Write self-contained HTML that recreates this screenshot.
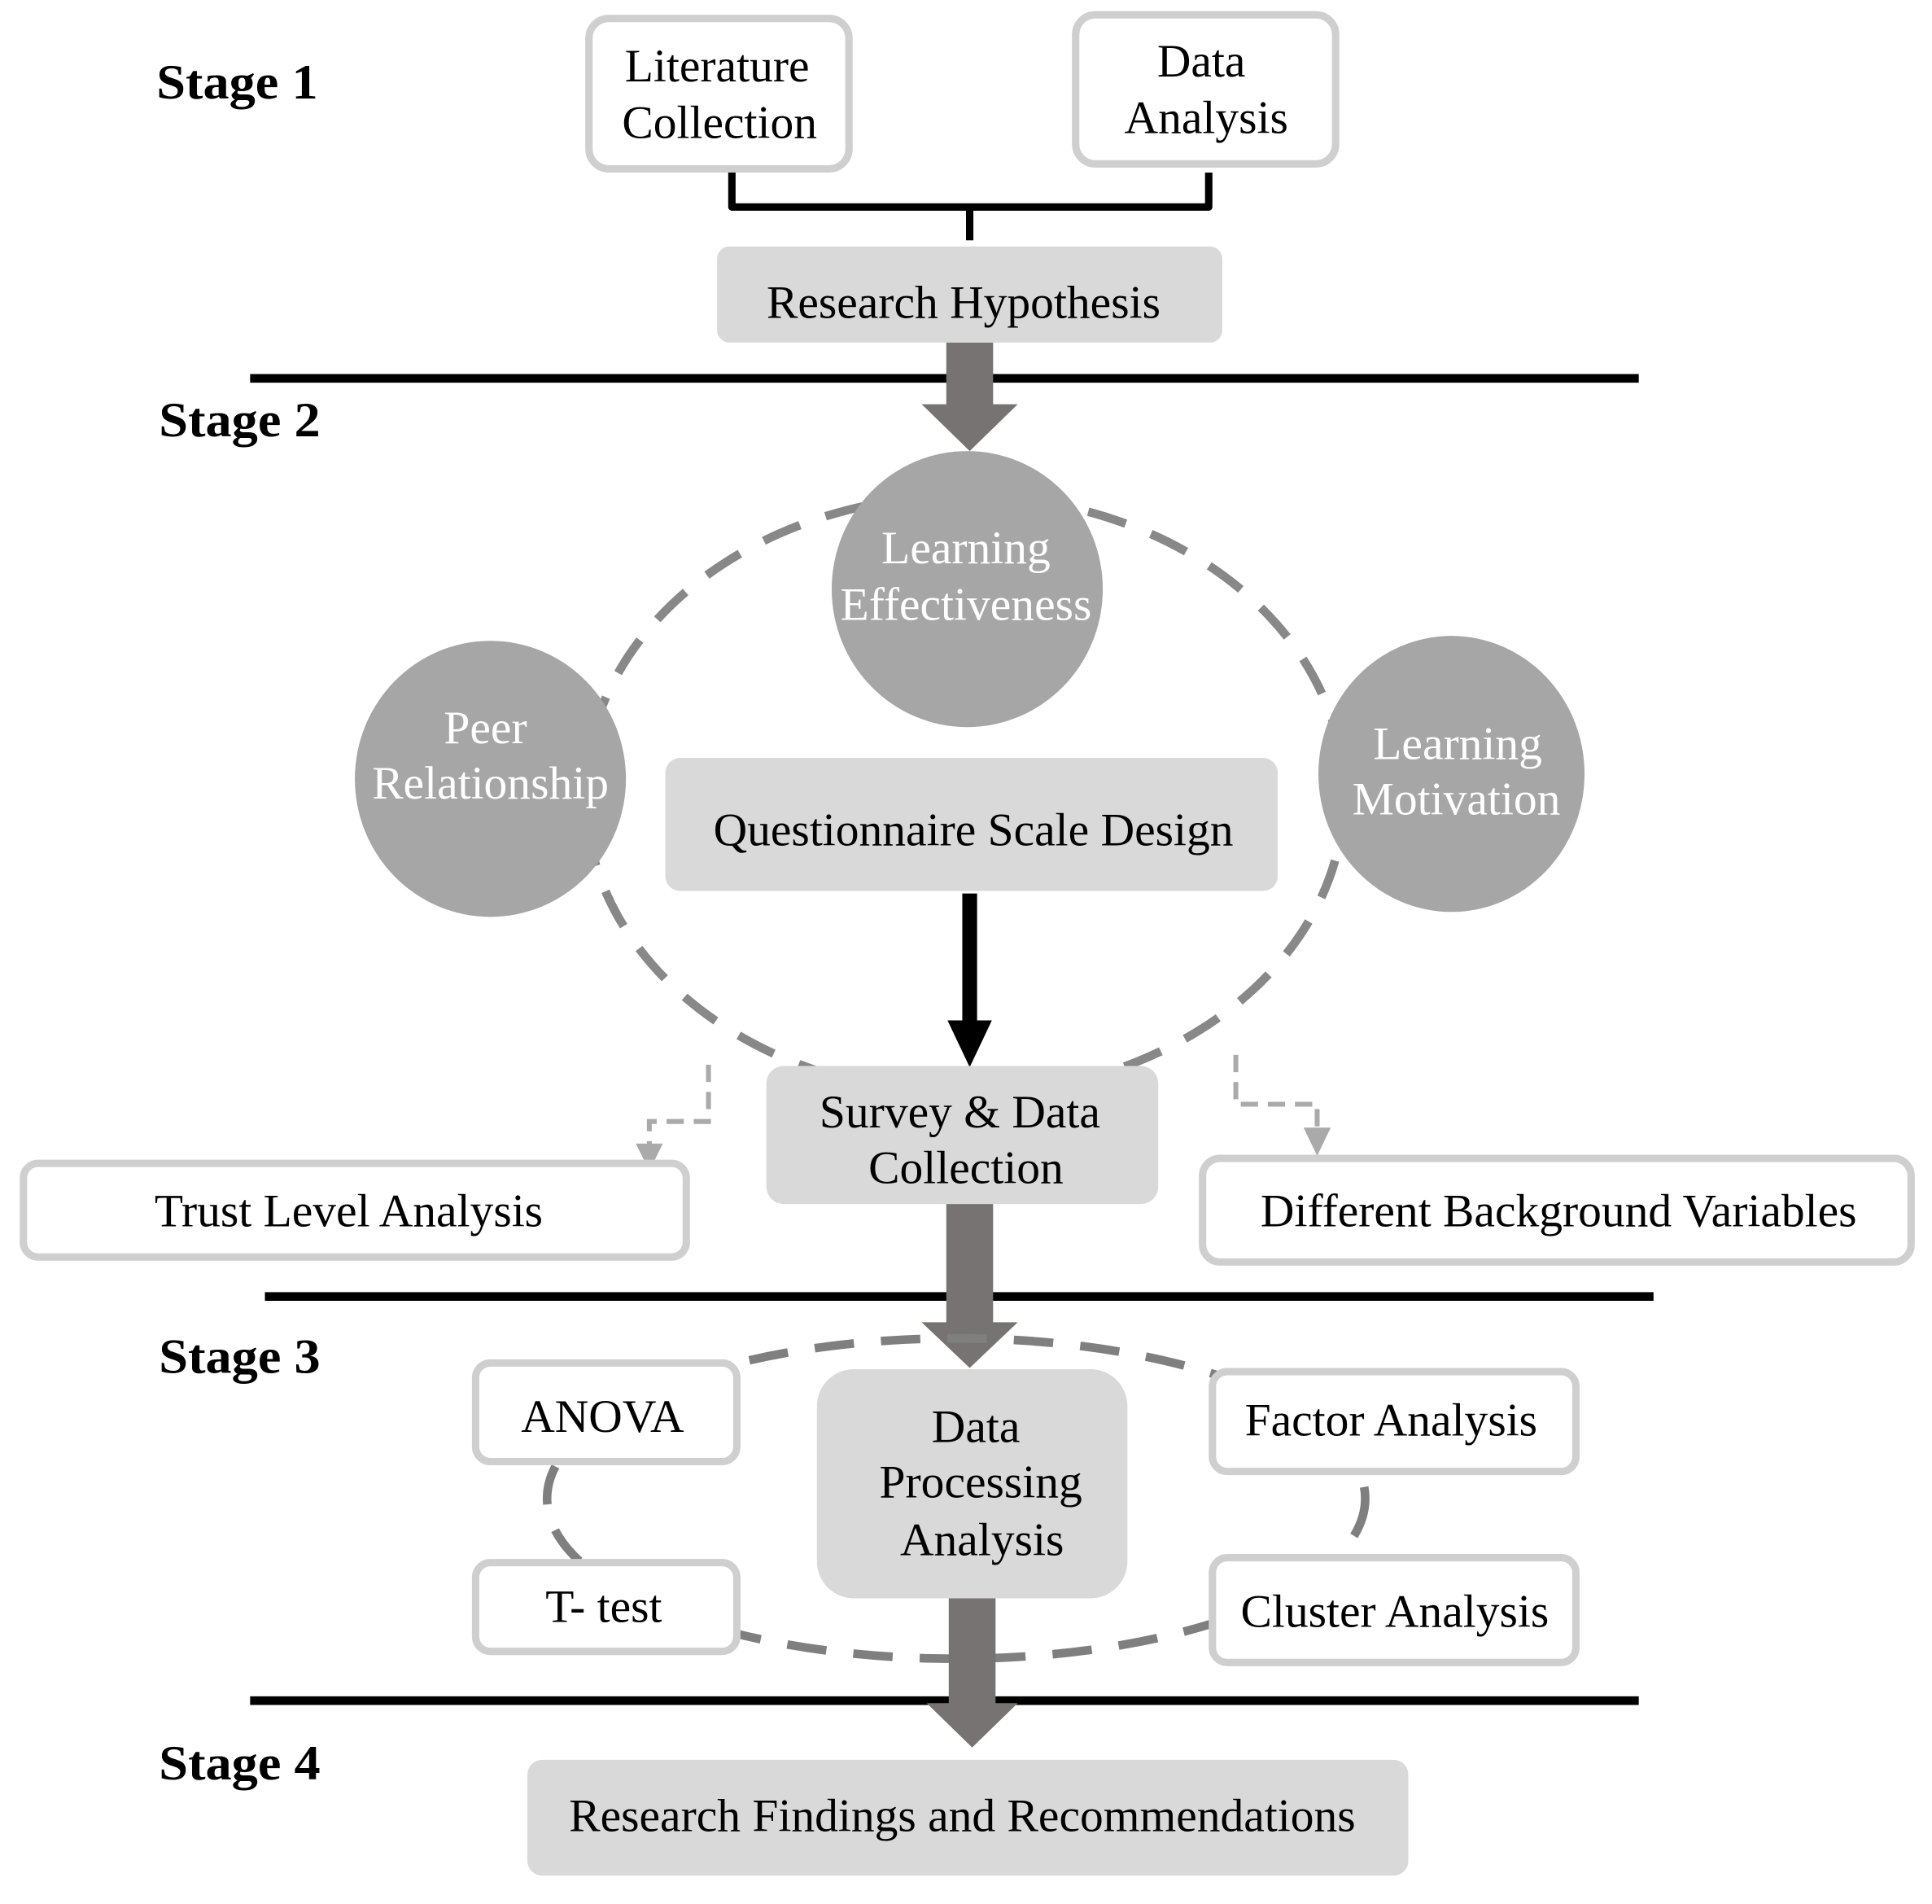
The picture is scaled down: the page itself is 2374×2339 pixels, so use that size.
<!DOCTYPE html>
<html><head><meta charset="utf-8"><style>html,body{margin:0;padding:0;background:#fff}svg{display:block}</style></head>
<body>
<svg width="2374" height="2339" viewBox="0 0 1568 1545" preserveAspectRatio="none" xmlns="http://www.w3.org/2000/svg" font-family="'Liberation Serif', serif">
<rect width="1568" height="1545" fill="#fff"/>
<g font-weight="bold" font-size="40" fill="#000">
<text x="127" y="80" textLength="131" lengthAdjust="spacingAndGlyphs">Stage 1</text>
<text x="129" y="354" textLength="131" lengthAdjust="spacingAndGlyphs">Stage 2</text>
<text x="129" y="1114" textLength="131" lengthAdjust="spacingAndGlyphs">Stage 3</text>
<text x="129" y="1444" textLength="131" lengthAdjust="spacingAndGlyphs">Stage 4</text>
</g>
<rect x="478" y="15" width="211" height="122" rx="16" fill="#fff" stroke="#cfcfcf" stroke-width="6"/>
<rect x="873" y="12" width="211" height="121" rx="16" fill="#fff" stroke="#cfcfcf" stroke-width="6"/>
<g font-size="38" text-anchor="middle" fill="#000">
<text x="582" y="66">Literature</text><text x="584" y="112">Collection</text>
<text x="975" y="62">Data</text><text x="979" y="108">Analysis</text>
</g>
<path d="M594 140 V168 H981 V140 M787 168 V195" fill="none" stroke="#000" stroke-width="6" stroke-linejoin="round"/>
<rect x="582" y="200" width="410" height="78" rx="10" fill="#d9d9d9"/>
<text x="782" y="258" font-size="38" text-anchor="middle">Research Hypothesis</text>
<g stroke="#000" stroke-width="7">
<line x1="203" y1="307" x2="1330" y2="307"/>
<line x1="215" y1="1052" x2="1342" y2="1052"/>
<line x1="203" y1="1380" x2="1330" y2="1380"/>
</g>
<path d="M768 278 H806 V328 H826 L787 366 L748 328 H768 Z" fill="#787373"/>
<ellipse cx="783" cy="645" rx="308" ry="243" fill="none" stroke="#888" stroke-width="7" stroke-dasharray="32 22"/>
<g fill="#a6a6a6">
<ellipse cx="785" cy="478" rx="110" ry="112"/>
<ellipse cx="398" cy="632" rx="110" ry="112"/>
<ellipse cx="1178" cy="628" rx="108" ry="112"/>
</g>
<g font-size="38" text-anchor="middle" fill="#fff">
<text x="784" y="457">Learning</text><text x="784" y="503">Effectiveness</text>
<text x="394" y="603">Peer</text><text x="398" y="648">Relationship</text>
<text x="1183" y="616">Learning</text><text x="1182" y="661">Motivation</text>
</g>
<rect x="540" y="615" width="497" height="108" rx="12" fill="#d9d9d9"/>
<text x="790" y="686" font-size="38" text-anchor="middle">Questionnaire Scale Design</text>
<line x1="787" y1="725" x2="787" y2="832" stroke="#000" stroke-width="12"/>
<path d="M769 828 H805 L787 866 Z" fill="#000"/>
<g fill="none" stroke="#aaa" stroke-width="4" stroke-dasharray="14 8">
<path d="M575 864 V910 H527 V930"/>
<path d="M1003 856 V896 H1069 V916"/>
</g>
<path d="M516 928 H538 L527 950 Z" fill="#aaa"/>
<path d="M1058 915 H1080 L1069 938 Z" fill="#aaa"/>
<rect x="622" y="865" width="318" height="112" rx="14" fill="#d9d9d9"/>
<g font-size="38" text-anchor="middle">
<text x="779" y="915">Survey &amp; Data</text><text x="784" y="960">Collection</text>
</g>
<rect x="19" y="944" width="538" height="76" rx="12" fill="#fff" stroke="#cfcfcf" stroke-width="6"/>
<rect x="976" y="940" width="575" height="84" rx="14" fill="#fff" stroke="#cfcfcf" stroke-width="6"/>
<g font-size="38" text-anchor="middle">
<text x="283" y="995">Trust Level Analysis</text>
<text x="1265" y="995">Different Background Variables</text>
</g>
<path d="M768 977 H806 V1073 H826 L787 1110 L748 1073 H768 Z" fill="#787373"/>
<ellipse cx="776" cy="1216" rx="332" ry="130" fill="none" stroke="#7f7f7f" stroke-width="7" stroke-dasharray="32 22"/>
<g fill="#fff" stroke="#cfcfcf" stroke-width="6">
<rect x="386" y="1106" width="212" height="80" rx="12"/>
<rect x="386" y="1268" width="212" height="72" rx="12"/>
<rect x="984" y="1113" width="295" height="81" rx="12"/>
<rect x="984" y="1264" width="295" height="85" rx="12"/>
</g>
<rect x="663" y="1111" width="252" height="186" rx="30" fill="#d9d9d9"/>
<g font-size="38" text-anchor="middle">
<text x="489" y="1162">ANOVA</text>
<text x="490" y="1316">T- test</text>
<text x="1129" y="1165">Factor Analysis</text>
<text x="1132" y="1320">Cluster Analysis</text>
<text x="792" y="1170">Data</text><text x="796" y="1215">Processing</text><text x="797" y="1262">Analysis</text>
</g>
<path d="M770 1297 H808 V1382 H826 L789 1418 L752 1382 H770 Z" fill="#787373"/>
<rect x="428" y="1428" width="715" height="94" rx="12" fill="#d9d9d9"/>
<text x="781" y="1486" font-size="38" text-anchor="middle">Research Findings and Recommendations</text>
</svg>
</body></html>
